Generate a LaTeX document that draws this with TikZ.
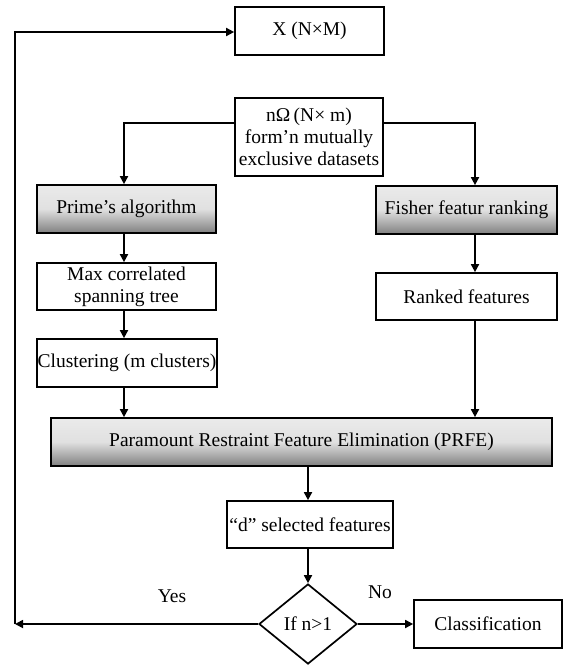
\documentclass[tikz,border=0pt]{standalone}
\usepackage{fontspec}
\setmainfont{Liberation Serif}
\usetikzlibrary{arrows.meta,shapes.geometric,calc}
\begin{document}
\begin{tikzpicture}[x=1pt,y=-1pt,
  every node/.style={font=\fontsize{19.5}{22}\selectfont, inner sep=0pt, align=center},
  plainbox/.style={draw, line width=1.7pt, fill=white},
  shadebox/.style={draw, line width=1.7pt, top color=black!8, bottom color=black!50, middle color=black!12},
  dec/.style={draw, diamond, line width=1.7pt, minimum width=98pt, minimum height=80pt, aspect=1.225},
  conn/.style={line width=1.7pt, -{Triangle[length=8pt,width=8pt]}}]
\useasboundingbox (0,0) rectangle (563,666);
\node[plainbox, minimum width=149pt, minimum height=48pt] (X) at (309.5,31) {X (N×M)};
\node[plainbox, minimum width=148pt, minimum height=78pt] (nO) at (309,137) {nΩ\,(N× m)\\form’n mutually\\exclusive datasets};
\node[shadebox, minimum width=179pt, minimum height=48pt] (prime) at (126.5,209) {Prime’s algorithm};
\node[plainbox, minimum width=179pt, minimum height=47pt] (maxc) at (126.5,286.5) {Max correlated\\spanning tree};
\node[plainbox, minimum width=180pt, minimum height=48pt] (clust) at (127,363) {Clustering (m clusters)};
\node[shadebox, minimum width=181pt, minimum height=48pt] (fisher) at (466.5,210) {Fisher featur ranking};
\node[plainbox, minimum width=181pt, minimum height=47pt] (ranked) at (466.5,296.5) {Ranked features};
\node[shadebox, minimum width=501pt, minimum height=48pt] (prfe) at (301.5,442) {Paramount Restraint Feature Elimination (PRFE)};
\node[plainbox, minimum width=166pt, minimum height=47pt] (dsel) at (310,524.5) {“d” selected features};
\node[dec] (dia) at (308,624) {};
\node (iftext) at (dia.center) {If n>1};
\node[plainbox, minimum width=148pt, minimum height=48pt] (cls) at (488,624) {Classification};
\node (yes) at (172,596) {Yes};
\node (no) at (380,592) {No};
\coordinate (lb) at (15,624);
\coordinate (lt) at (15,32);
\coordinate (lcol) at (124,123);
\coordinate (rcol) at (475,123);
% top branches
\draw[conn] (nO.west |- lcol) -- (lcol) -- (lcol |- prime.north);
\draw[conn] (nO.east |- rcol) -- (rcol) -- (rcol |- fisher.north);
% left column
\draw[conn] (prime.south -| lcol) -- (maxc.north -| lcol);
\draw[conn] (maxc.south -| lcol) -- (clust.north -| lcol);
\draw[conn] (clust.south -| lcol) -- (prfe.north -| lcol);
% right column
\draw[conn] (fisher.south -| rcol) -- (ranked.north -| rcol);
\draw[conn] (ranked.south -| rcol) -- (prfe.north -| rcol);
% centre
\draw[conn] (prfe.south -| dia.north) -- (dsel.north -| dia.north);
\draw[conn] (dsel.south -| dia.north) -- (dia.north);
\draw[conn] (dia.east) -- (cls.west);
\draw[conn] (dia.west) -- (lb);
\draw[conn] (lb) -- (lt) -- (X.west |- lt);
\end{tikzpicture}
\end{document}
